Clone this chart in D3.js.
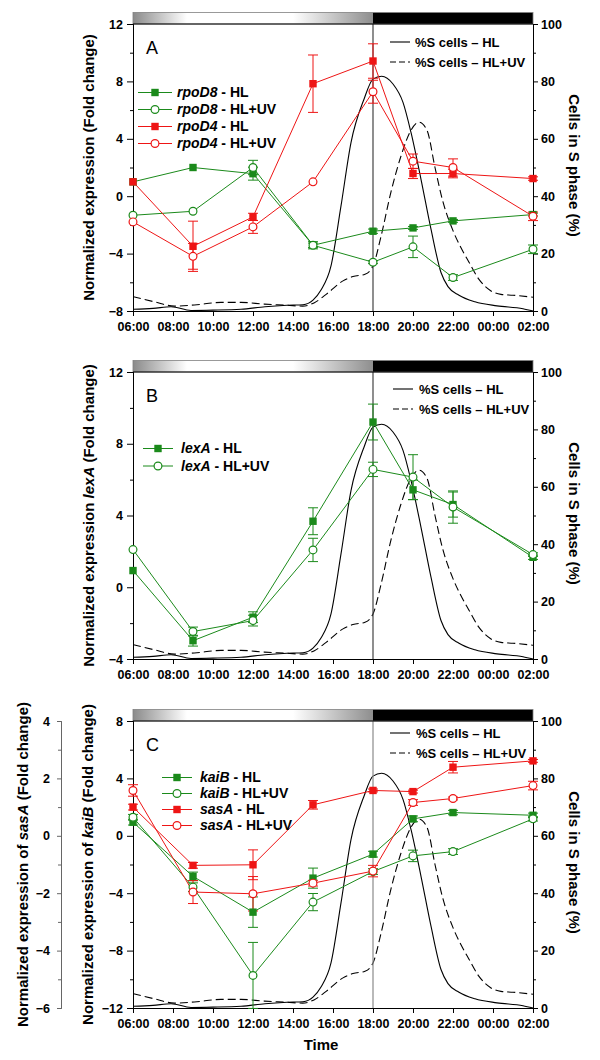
<!DOCTYPE html>
<html><head><meta charset="utf-8">
<script src="https://cdn.jsdelivr.net/npm/d3@7/dist/d3.min.js"></script>
<style>body{margin:0;background:#fff} svg text{font-family:"Liberation Sans",Arial,sans-serif;}</style>
</head><body><svg id="c" width="600" height="1060"></svg>
<script>
// ---------- data ----------
const timeTickHours = [0,2,4,6,8,10,12,14,16,18,20];          // hours after 06:00
const timeTickLabels = ["06:00","08:00","10:00","12:00","14:00","16:00","18:00","20:00","22:00","00:00","02:00"];
const sampleHours = [0,3,6,9,12,14,16,20];                      // 06,09,12,15,18,20,22,02 h

// panel A
const rpoD8_HL      = [1.0, 2.0, 1.57, -3.42, -2.44, -2.21, -1.72, -1.28];
const rpoD8_HL_err  = [0, 0, 0.45, 0.15, 0.15, 0.1, 0.1, 0.1];
const rpoD8_UV      = [-1.33, -1.05, 2.0, -3.42, -4.6, -3.53, -5.67, -3.7];
const rpoD8_UV_err  = [0, 0, 0.5, 0.25, 0.1, 0.75, 0.2, 0.3];
const rpoD4_HL      = [1.0, -3.49, -1.44, 7.84, 9.42, 1.58, 1.58, 1.23];
const rpoD4_HL_err  = [0, 1.75, 0.25, 2.0, 1.2, 0.35, 0.3, 0.12];
const rpoD4_UV      = [-1.79, -4.19, -2.14, 1.0, 7.28, 2.44, 2.0, -1.4];
const rpoD4_UV_err  = [0, 0.9, 0.45, 0, 0.8, 0.5, 0.6, 0.3];
// panel B
const lexA_HL       = [0.93, -2.98, -1.67, 3.68, 9.21, 5.43, 4.61, 1.67];
const lexA_HL_err   = [0, 0.3, 0.3, 0.75, 1.0, 0.55, 0.7, 0.12];
const lexA_UV       = [2.1, -2.47, -1.86, 2.08, 6.57, 6.14, 4.47, 1.82];
const lexA_UV_err   = [0, 0.25, 0.3, 0.65, 0.4, 1.25, 0.9, 0.1];
// panel C (kaiB on left axis, sasA on far-left axis)
const kaiB_HL       = [0.95, -2.83, -5.32, -2.95, -1.28, 1.18, 1.62, 1.43];
const kaiB_HL_err   = [0.2, 0.3, 1.06, 0.7, 0.2, 0.2, 0.15, 0.15];
const kaiB_UV       = [1.29, -3.58, -9.73, -4.62, -2.49, -1.4, -1.1, 1.18];
const kaiB_UV_err   = [0.2, 0.3, 2.3, 0.6, 0.2, 0.4, 0.2, 0.15];
const sasA_HL       = [1.0, -1.03, -1.01, 1.08, 1.58, 1.54, 2.39, 2.61];
const sasA_HL_err   = [0.1, 0.1, 0.52, 0.15, 0.05, 0.05, 0.2, 0.05];
const sasA_UV       = [1.58, -1.96, -2.02, -1.65, -1.23, 1.16, 1.30, 1.75];
const sasA_UV_err   = [0.2, 0.4, 0.6, 0.1, 0.2, 0.1, 0.05, 0.15];

// % cells in S phase (hours after 06:00, percent)
const sHL_hours = [0,1.0,1.9,2.9,4.0,5.4,6.6,7.7,8.5,9.0,9.4,9.9,10.4,10.9,11.55,12.0,12.43,13.0,13.5,13.9,14.4,14.9,15.4,15.75,16.3,17.1,18.2,19.5,20];
const sHL_pct   = [0.6,0.9,1.5,0.2,0.3,0.6,1.5,2.0,2.2,3.8,7.3,15.7,36.6,58.7,73.8,80.8,81.8,79.1,72.7,62.2,45.9,28.5,13.4,8.5,5.5,3.2,1.8,0.8,0];
const sUV_hours = [0,1.07,2.07,3.07,4.4,5.4,6.57,7.73,8.48,9.07,9.73,10.5,11.0,11.6,12.0,12.4,12.9,13.4,13.9,14.3,14.7,15.1,15.5,16.0,16.4,16.8,17.3,17.9,18.4,19.0,20];
const sUV_pct   = [5.0,3.2,1.7,2.1,3.0,3.0,2.4,2.0,1.7,2.9,6.2,10.5,12.0,12.8,15.7,26.0,41.5,54.0,63.0,65.8,63.0,50.0,38.0,28.0,22.0,17.0,11.0,7.0,5.8,5.5,4.8];

const GREEN = "#1b8a1b", RED = "#ee1515";

// ---------- drawing ----------
const svg = d3.select("#c");
const defs = svg.append("defs");
const grad = defs.append("linearGradient").attr("id","dayGrad").attr("x1",0).attr("x2",1).attr("y1",0).attr("y2",0);
[[0,"#8a8a8a"],[0.135,"#ffffff"],[0.40,"#ffffff"],[0.6,"#8e8e8e"],[0.6,"#000"],[1,"#000"]]
  .forEach(s=>grad.append("stop").attr("offset",s[0]).attr("stop-color",s[1]));

const panels = [
  {top:24, label:"A", yDomain:[-8,12], yTicks:[-8,-4,0,4,8,12], yMinor:[-6,-2,2,6,10], vColor:"#444",
   title:[["Normalized expression (Fold change)",false]],
   series:[
     {name:"rpoD8", cond:"HL", v:rpoD8_HL, e:rpoD8_HL_err, c:GREEN, filled:true},
     {name:"rpoD8", cond:"HL+UV", v:rpoD8_UV, e:rpoD8_UV_err, c:GREEN, filled:false},
     {name:"rpoD4", cond:"HL", v:rpoD4_HL, e:rpoD4_HL_err, c:RED, filled:true},
     {name:"rpoD4", cond:"HL+UV", v:rpoD4_UV, e:rpoD4_UV_err, c:RED, filled:false}],
   leg:{x0:138, x1:172, tx:177, y0:92.5, dy:17}, sleg:{x0:390, x1:410, tx:415, y0:42, dy:20}},
  {top:372, label:"B", yDomain:[-4,12], yTicks:[-4,0,4,8,12], yMinor:[-2,2,6,10], vColor:"#444",
   title:[["Normalized expression ",false],["lexA",true],[" (Fold change)",false]],
   series:[
     {name:"lexA", cond:"HL", v:lexA_HL, e:lexA_HL_err, c:GREEN, filled:true},
     {name:"lexA", cond:"HL+UV", v:lexA_UV, e:lexA_UV_err, c:GREEN, filled:false}],
   leg:{x0:143, x1:173, tx:181, y0:448.5, dy:17.5}, sleg:{x0:393, x1:413, tx:419, y0:389, dy:20}},
  {top:721, label:"C", yDomain:[-12,8], yTicks:[-12,-8,-4,0,4,8], yMinor:[-10,-6,-2,2,6], vColor:"#8a8a8a",
   title:[["Normalized expression of ",false],["kaiB",true],[" (Fold change)",false]],
   alt:{domain:[-6,4], ticks:[-6,-4,-2,0,2,4], minor:[-5,-3,-1,1,3], title:[["Normalized expression of ",false],["sasA",true],[" (Fold change)",false]]},
   series:[
     {name:"kaiB", cond:"HL", v:kaiB_HL, e:kaiB_HL_err, c:GREEN, filled:true},
     {name:"kaiB", cond:"HL+UV", v:kaiB_UV, e:kaiB_UV_err, c:GREEN, filled:false},
     {name:"sasA", cond:"HL", v:sasA_HL, e:sasA_HL_err, c:RED, filled:true, alt:true},
     {name:"sasA", cond:"HL+UV", v:sasA_UV, e:sasA_UV_err, c:RED, filled:false, alt:true}],
   leg:{x0:162, x1:192, tx:200, y0:777.5, dy:16}, sleg:{x0:390, x1:410, tx:416, y0:733, dy:20}, time:true}
];

const L = 133, R = 533, H = 287;

function addTitle(g, parts, x, y, rot, size){
  const t = g.append("text").attr("transform",`translate(${x},${y}) rotate(${rot})`)
    .attr("text-anchor","middle").attr("font-size",size).attr("font-weight","bold");
  parts.forEach(p=>t.append("tspan").text(p[0]).attr("font-style",p[1]?"italic":"normal"));
  return t;
}
function marker(g, cx, cy, s){
  if (s.filled) g.append("rect").attr("x",cx-3.7).attr("y",cy-3.7).attr("width",7.4).attr("height",7.4).attr("fill",s.c);
  else g.append("circle").attr("cx",cx).attr("cy",cy).attr("r",3.9).attr("fill","#fff").attr("stroke",s.c).attr("stroke-width",1.2);
}

panels.forEach(p=>{
  const top = p.top, bottom = top + H;
  const g = svg.append("g");
  const x = d3.scaleLinear().domain([0,20]).range([L,R]);
  const y = d3.scaleLinear().domain(p.yDomain).range([bottom, top]);
  const yAlt = p.alt ? d3.scaleLinear().domain(p.alt.domain).range([bottom, top]) : null;
  const yS = d3.scaleLinear().domain([0,100]).range([bottom, top]);

  // light/dark bar
  g.append("rect").attr("x",L).attr("y",top-11.5).attr("width",R-L).attr("height",11.5)
    .attr("fill","url(#dayGrad)").attr("stroke","#808080").attr("stroke-width",0.8);

  // S-phase curves
  const sl = d3.line().x(d=>x(d[0])).y(d=>yS(d[1])).curve(d3.curveMonotoneX);
  g.append("path").attr("d", sl(d3.zip(sHL_hours, sHL_pct))).attr("fill","none").attr("stroke","#000").attr("stroke-width",1.1);
  g.append("path").attr("d", sl(d3.zip(sUV_hours, sUV_pct))).attr("fill","none").attr("stroke","#000").attr("stroke-width",1.1).attr("stroke-dasharray","8,4");

  // 18:00 line and frame top
  g.append("line").attr("x1",x(12)).attr("x2",x(12)).attr("y1",top).attr("y2",bottom).attr("stroke",p.vColor).attr("stroke-width",1.2);
  g.append("line").attr("x1",L).attr("x2",R).attr("y1",top).attr("y2",top).attr("stroke","#000").attr("stroke-width",1);

  // axes
  const styleAxis = a => { a.selectAll("text").attr("font-size",12.5).attr("font-weight","bold").attr("fill","#000");
                            a.selectAll("line,path").attr("stroke","#000"); };
  g.append("g").attr("transform",`translate(${L},0)`).call(d3.axisLeft(y).tickValues(p.yMinor).tickSize(3).tickFormat("")).call(styleAxis);
  g.append("g").attr("transform",`translate(${L},0)`).call(d3.axisLeft(y).tickValues(p.yTicks).tickSize(6).tickPadding(4).tickFormat(d3.format("d"))).call(styleAxis);
  g.append("g").attr("transform",`translate(${R},0)`).call(d3.axisRight(yS).tickValues([10,30,50,70,90]).tickSize(3).tickFormat("")).call(styleAxis);
  g.append("g").attr("transform",`translate(${R},0)`).call(d3.axisRight(yS).tickValues([0,20,40,60,80,100]).tickSize(5).tickPadding(3)).call(styleAxis);
  g.append("g").attr("transform",`translate(0,${bottom})`)
    .call(d3.axisBottom(x).tickValues(timeTickHours).tickSize(5).tickPadding(6).tickFormat((d,i)=>timeTickLabels[i])).call(styleAxis);

  if (p.alt){
    const AX = 61;
    const a1 = g.append("g").attr("transform",`translate(${AX},0)`).call(d3.axisLeft(yAlt).tickValues(p.alt.minor).tickSize(3).tickFormat("")).call(styleAxis);
    const a2 = g.append("g").attr("transform",`translate(${AX},0)`).call(d3.axisLeft(yAlt).tickValues(p.alt.ticks).tickSize(4).tickPadding(7).tickFormat(d3.format("d"))).call(styleAxis);
    [a1,a2].forEach(a=>a.selectAll("line,path").attr("stroke","#666"));
    addTitle(g, p.alt.title, 28, (top+bottom)/2, -90, 15);
    addTitle(g, p.title, 93, (top+bottom)/2, -90, 15);
  } else {
    addTitle(g, p.title, 94, (top+bottom)/2, -90, 15);
  }
  addTitle(g, [["Cells in S phase (%)",false]], 569, (top+bottom)/2 - 2, 90, 15);
  if (p.time) g.append("text").attr("x",321).attr("y",bottom+42).attr("text-anchor","middle")
      .attr("font-size",15).attr("font-weight","bold").text("Time");

  // panel letter
  g.append("text").attr("x",146).attr("y",top+30).attr("font-size",18).attr("font-family","'Open Sans',sans-serif").text(p.label);

  // series
  p.series.forEach(s=>{
    const ys = s.alt ? yAlt : y;
    const pts = sampleHours.map((h,i)=>[h, s.v[i], s.e[i]]);
    g.append("path").attr("d", d3.line().x(d=>x(d[0])).y(d=>ys(d[1]))(pts))
      .attr("fill","none").attr("stroke",s.c).attr("stroke-width",1);
    pts.forEach(d=>{
      if (d[2] > 0){
        const cx = x(d[0]), y1 = ys(d[1]+d[2]), y2 = ys(d[1]-d[2]);
        g.append("line").attr("x1",cx).attr("x2",cx).attr("y1",y1).attr("y2",y2).attr("stroke",s.c).attr("stroke-width",1);
        [y1,y2].forEach(yy=>g.append("line").attr("x1",cx-5).attr("x2",cx+5).attr("y1",yy).attr("y2",yy).attr("stroke",s.c).attr("stroke-width",1));
      }
    });
  });
  p.series.forEach(s=>{
    const ys = s.alt ? yAlt : y;
    sampleHours.forEach((h,i)=>marker(g, x(h), ys(s.v[i]), s));
  });

  // legend (genes)
  p.series.forEach((s,i)=>{
    const yy = p.leg.y0 + i*p.leg.dy;
    g.append("line").attr("x1",p.leg.x0).attr("x2",p.leg.x1).attr("y1",yy).attr("y2",yy).attr("stroke",s.c).attr("stroke-width",1);
    marker(g, (p.leg.x0+p.leg.x1)/2, yy, s);
    const t = g.append("text").attr("x",p.leg.tx).attr("y",yy+4.8).attr("font-size",14).attr("font-weight","bold");
    t.append("tspan").attr("font-style","italic").text(s.name);
    t.append("tspan").text(" - " + s.cond);
  });
  // legend (S phase)
  [["%S cells \u2013 HL",null],["%S cells \u2013 HL+UV","6,3"]].forEach((d,i)=>{
    const yy = p.sleg.y0 + i*p.sleg.dy;
    const ln = g.append("line").attr("x1",p.sleg.x0).attr("x2",p.sleg.x1).attr("y1",yy).attr("y2",yy).attr("stroke","#000").attr("stroke-width",1.1);
    if (d[1]) ln.attr("stroke-dasharray",d[1]);
    g.append("text").attr("x",p.sleg.tx).attr("y",yy+4.6).attr("font-size",13).attr("font-weight","bold").text(d[0]);
  });
});
</script></body></html>
